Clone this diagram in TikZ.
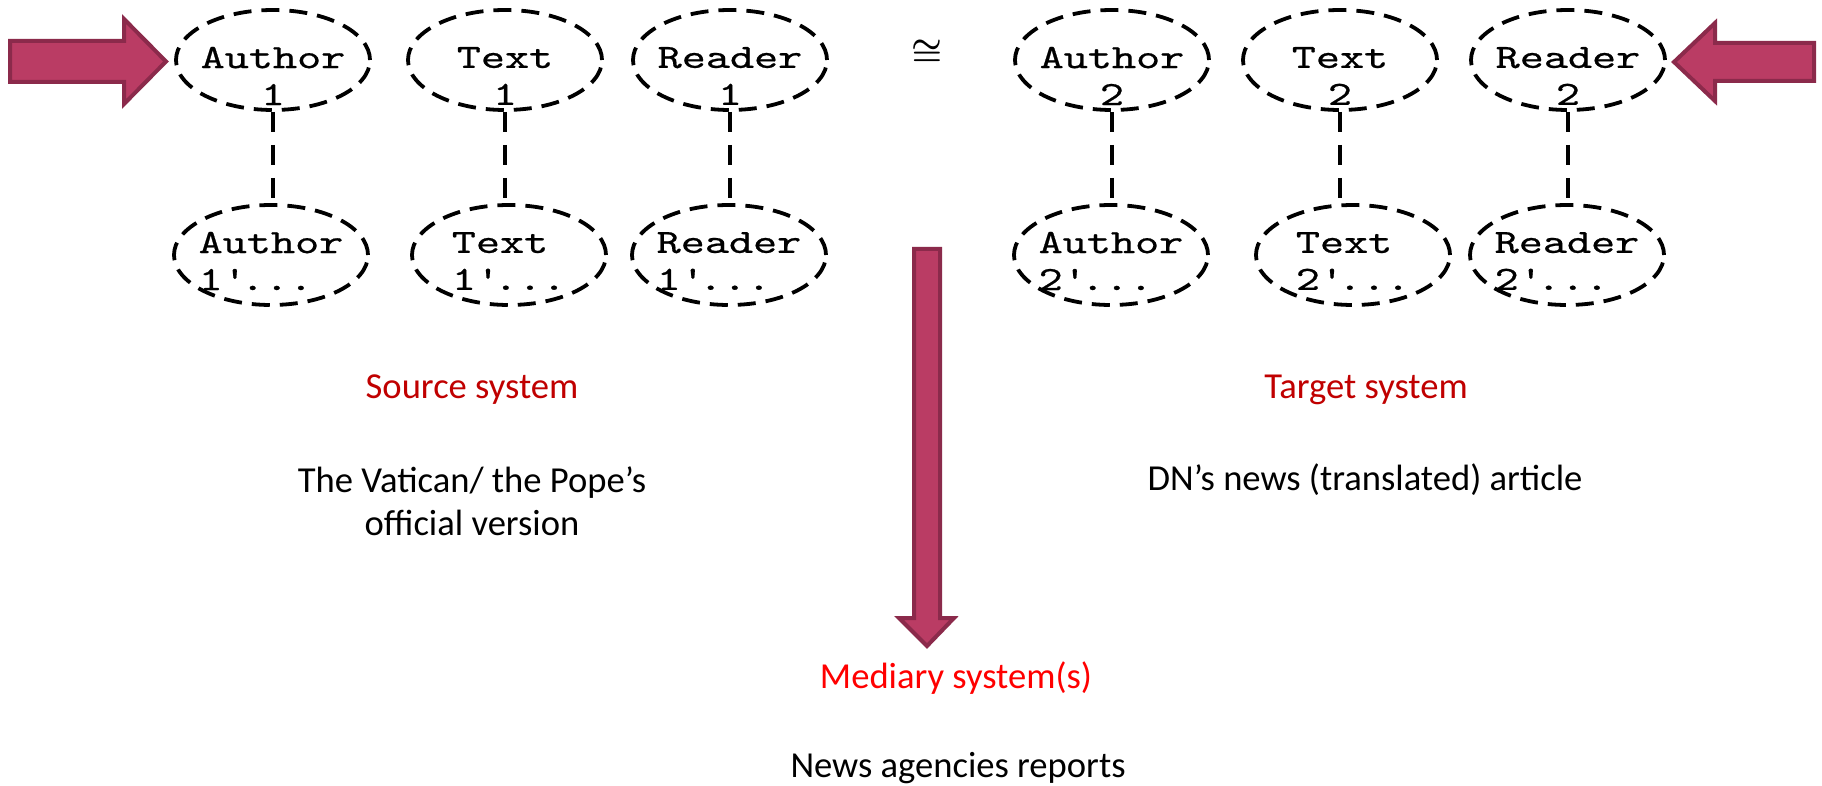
\documentclass[tikz,border=0pt]{standalone}
\usepackage{fontspec}
\setmainfont{Carlito}
\newfontfamily\monowide{lmmono10-regular.otf}[FakeStretch=1.35, FakeBold=0.6]
\usetikzlibrary{shapes, positioning}
\definecolor{arrowfill}{RGB}{186,60,100}
\definecolor{arrowline}{RGB}{139,42,75}
\definecolor{darkred}{RGB}{192,0,0}

\begin{document}
\begin{tikzpicture}[x=0.5pt, y=-0.5pt,
  oval/.style={shape=ellipse, minimum width=97pt, minimum height=50pt, inner sep=0pt, draw=black, line width=1.9pt, dash pattern=on 9pt off 5pt},
  link/.style={draw=black, line width=1.9pt, dash pattern=on 10pt off 6.5pt},
  mono/.style={font=\fontsize{17}{18.5}\selectfont\monowide},
  fatarrow/.style={draw=arrowline, fill=arrowfill, line width=2pt, line join=miter},
  caption/.style={font=\fontsize{18.3}{21.5}\selectfont, align=center}]
\useasboundingbox (0,0) rectangle (1822,786);
%source system
\node[oval, label={[mono, align=center, yshift=-8pt]center:Author\\1}] (a1) at (273,60) {};
\node[oval, label={[mono, align=center, yshift=-8pt]center:Text\\1}] (t1) at (505,60) {};
\node[oval, label={[mono, align=center, yshift=-8pt]center:Reader\\1}] (r1) at (730,60) {};
\node[oval, label={[mono, align=left, yshift=-3pt]center:Author\\1\textquotesingle...}] (a1p) at (271,255) {};
\node[oval, label={[mono, align=left, yshift=-3pt]center:Text\\1\textquotesingle...}] (t1p) at (509,255) {};
\node[oval, label={[mono, align=left, yshift=-3pt]center:Reader\\1\textquotesingle...}] (r1p) at (729,255) {};
%
\node[font=\fontsize{19}{19}\selectfont\boldmath] (eq) at (927,53) {$\cong$};
%target system
\node[oval, label={[mono, align=center, yshift=-8pt]center:Author\\2}] (a2) at (1112,60) {};
\node[oval, label={[mono, align=center, yshift=-8pt]center:Text\\2}] (t2) at (1340,60) {};
\node[oval, label={[mono, align=center, yshift=-8pt]center:Reader\\2}] (r2) at (1568,60) {};
\node[oval, label={[mono, align=left, yshift=-3pt]center:Author\\2\textquotesingle...}] (a2p) at (1111,255) {};
\node[oval, label={[mono, align=left, yshift=-3pt]center:Text\\2\textquotesingle...}] (t2p) at (1353,255) {};
\node[oval, label={[mono, align=left, yshift=-3pt]center:Reader\\2\textquotesingle...}] (r2p) at (1567,255) {};
%dashed links
\foreach \n in {a1,t1,r1,a2,t2,r2}
  \draw[link] (\n) -- (\n |- \n p.north);
%block arrows
\draw[fatarrow] (10,41) -- (124,41) -- (124,19) -- (166,61.5) -- (124,104) -- (124,82) -- (10,82) -- cycle;
\draw[fatarrow] (1814,43) -- (1715,43) -- (1715,23) -- (1674,62) -- (1715,101) -- (1715,81) -- (1814,81) -- cycle;
\draw[fatarrow] (914,249) -- (940,249) -- (940,618) -- (954,618) -- (927,646) -- (899,618) -- (914,618) -- cycle;
%captions
\node[caption, text=darkred] (src) at (472,390) {Source system};
\node[caption] (srcnote) at (472,501) {The Vatican/ the Pope’s\\official version};
\node[caption, text=darkred] (tgt) at (1366,390) {Target system};
\node[caption] (tgtnote) at (1365,480) {DN’s news (translated) article};
\node[caption, text=red] (med) at (956,678) {Mediary system(s)};
\node[caption] (mednote) at (958,768) {News agencies reports};
\end{tikzpicture}
\end{document}
